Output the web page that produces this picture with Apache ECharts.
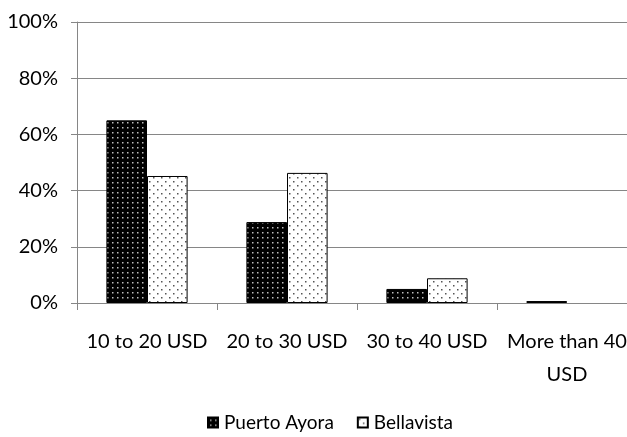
<!DOCTYPE html>
<html>
<head>
<meta charset="utf-8">
<script src="https://cdn.jsdelivr.net/npm/echarts@6/dist/echarts.min.js"></script>
<style>
  html, body { margin: 0; padding: 0; background: #fff; overflow: hidden; }
  /* the plot runs past the right edge of the page, as in the original layout */
  #chart { width: 640px; height: 437px; }
</style>
</head>
<body>
<div id="chart"></div>
<script>
// Price ranges and the share of respondents in each town
const categories = ['10 to 20 USD', '20 to 30 USD', '30 to 40 USD', 'More than 40\nUSD'];
const puertoAyora = [65, 28.8, 5, 0.7];
const bellavista = [45.2, 46.3, 8.8, 0];
const yTicks = { min: 0, max: 100, interval: 20 };

const FONT = 'Lato, "Open Sans", sans-serif';

// Dotted fills: dark bar with light dots, light bar with dark dots
function dotPattern(bg, dot, w, h, dots) {
  const c = document.createElement('canvas');
  c.width = w; c.height = h;
  const g = c.getContext('2d');
  g.fillStyle = bg;
  g.fillRect(0, 0, w, h);
  g.fillStyle = dot;
  dots.forEach(([x, y]) => g.fillRect(x, y, 1.5, 1.5));
  return { image: c, repeat: 'repeat' };
}
const darkFill = dotPattern('#000', '#bdbdbd', 5, 5, [[2, 2]]);
const lightFill = dotPattern('#fff', '#555', 8, 8, [[1, 1], [5, 5]]);

// Empty bars get no outline so nothing is drawn for them
const withOutline = vals => vals.map(v => ({ value: v, itemStyle: { borderWidth: v > 0 ? 1 : 0 } }));

const chart = echarts.init(document.getElementById('chart'), null, { renderer: 'canvas' });
chart.setOption({
  animation: false,
  textStyle: { fontFamily: FONT, color: '#000' },
  grid: { left: 77, top: 22, width: 560, height: 281, containLabel: false },
  legend: {
    left: 207,
    top: 413,
    padding: 0,
    itemWidth: 10,
    itemHeight: 10,
    itemGap: 23,
    icon: 'rect',
    textStyle: { fontFamily: FONT, fontSize: 19, color: '#000', padding: [0, 0, 0, 1] },
    data: ['Puerto Ayora', 'Bellavista']
  },
  xAxis: {
    type: 'category',
    data: categories,
    axisLine: { lineStyle: { color: '#868686', width: 1 } },
    axisTick: { show: true, length: 7, lineStyle: { color: '#868686' } },
    axisLabel: { fontFamily: FONT, fontSize: 20, color: '#000', margin: 22, lineHeight: 33, interval: 0 }
  },
  yAxis: {
    type: 'value',
    min: yTicks.min,
    max: yTicks.max,
    interval: yTicks.interval,
    axisLine: { show: true, lineStyle: { color: '#868686', width: 1 } },
    axisTick: { show: true, length: 6, lineStyle: { color: '#868686' } },
    splitLine: { lineStyle: { color: '#868686', width: 1 } },
    axisLabel: { fontFamily: FONT, fontSize: 20, color: '#000', margin: 19, formatter: '{value}%' }
  },
  series: [
    {
      name: 'Puerto Ayora',
      type: 'bar',
      data: withOutline(puertoAyora),
      barGap: '0%',
      barCategoryGap: '42%',
      itemStyle: { color: darkFill, borderColor: '#000', borderWidth: 1 }
    },
    {
      name: 'Bellavista',
      type: 'bar',
      data: withOutline(bellavista),
      itemStyle: { color: lightFill, borderColor: '#000', borderWidth: 1 }
    }
  ]
});
</script>
</body>
</html>
